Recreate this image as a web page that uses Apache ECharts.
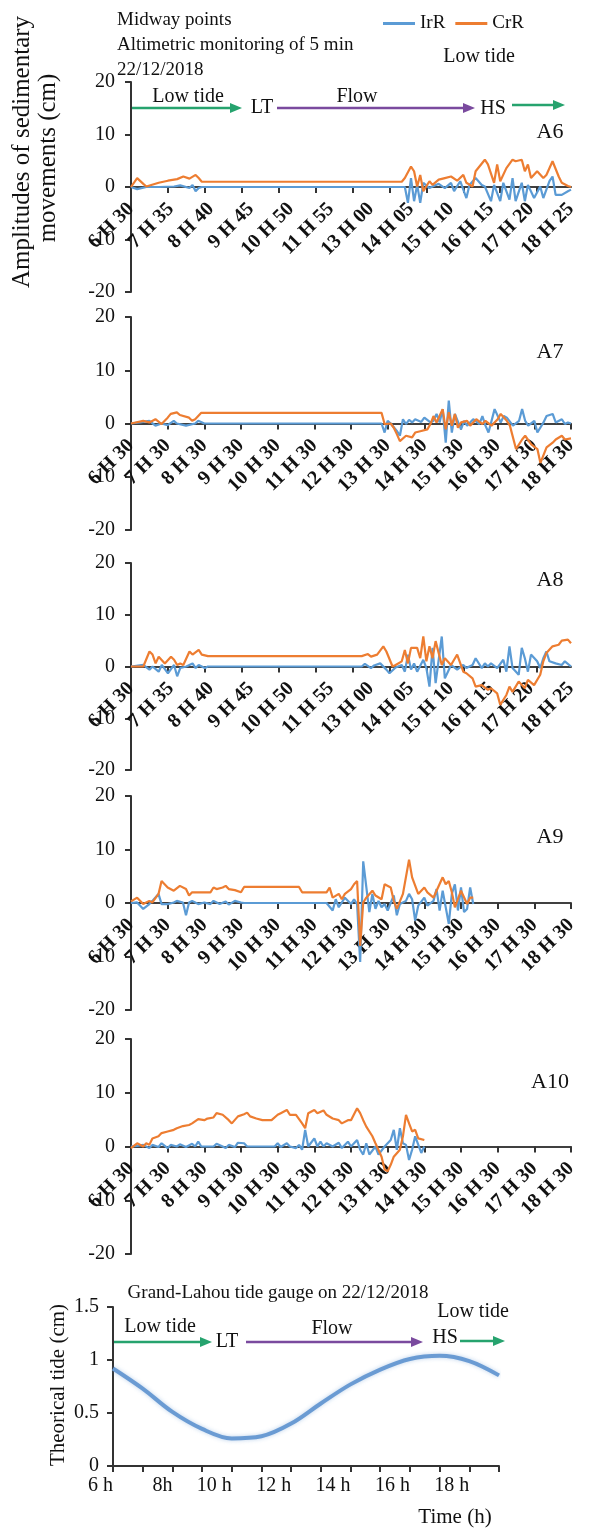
<!DOCTYPE html>
<html>
<head>
<meta charset="utf-8">
<script src="https://cdn.jsdelivr.net/npm/echarts@6/dist/echarts.min.js"></script>
<style>
  html, body { margin: 0; background: #fff; }
  #chart { width: 599px; height: 1530px; }
</style>
</head>
<body>
<div id="chart"></div>
<script>
// sample index = number of 5 min steps since 6 H 30
const a6IrR = [[0,0],[2,-0.4],[5,0],[9,0],[14,0.1],[16,0.3],[19,-0.2],[20,0.4],[21,-0.8],[22,-0.2],[23,0],[89,0],[90,-3.0],[91,1.7],[92,-2.7],[93,0.4],[94,-3.0],[95,0.8],[97,-0.2],[98,0.1],[100,0.6],[102,-0.2],[104,0.8],[105,-0.8],[107,1.1],[109,-2.1],[110,0.4],[112,1.7],[114,0.4],[115,0.1],[117,-2.7],[118,0.4],[120,-2.7],[121,0.8],[123,-2.4],[124,1.7],[125,-2.7],[127,0.8],[128,-2.7],[129,0.4],[131,-2.1],[133,0.1],[134,-2.1],[136,1.1],[137,2.0],[138,-1.5],[140,-1.5],[142,-0.8],[143,-0.5]]
const a6CrR = [[0,0],[2,1.7],[4,0.6],[5,0.1],[9,0.8],[12,1.2],[15,1.5],[17,2.0],[19,1.6],[21,2.3],[22,1.7],[23,1.0],[88,1.0],[89,1.7],[91,3.9],[92,3.0],[93,0.1],[94,2.3],[95,-0.8],[97,1.1],[98,0.4],[100,1.4],[102,1.7],[104,2.0],[106,1.2],[108,2.3],[109,0.8],[111,0.1],[112,3.0],[115,5.2],[116,4.3],[118,0.8],[119,4.3],[120,1.1],[122,3.6],[124,5.2],[125,4.9],[127,5.2],[128,3.0],[129,4.3],[130,1.7],[132,3.0],[134,1.7],[135,2.3],[137,4.9],[139,2.0],[140,0.8],[142,0.2],[143,0]]

const a7IrR = [[0,0],[3,0.2],[6,0.5],[8,-0.4],[10,0],[12,-0.3],[14,0.5],[15,0],[18,-0.4],[21,0],[22,0.5],[24,0],[82,0],[83,-1.7],[84,0.5],[85,0],[87,-1.4],[88,-2.3],[89,0.8],[90,-0.1],[91,0.7],[92,0.2],[93,0.8],[95,0.3],[96,1.1],[98,0.2],[99,0.5],[100,1.8],[101,0.2],[102,2.7],[103,-3.6],[104,4.3],[105,-1.7],[106,1.8],[108,-1.1],[109,0.5],[110,-0.4],[112,0.8],[114,-0.1],[115,1.4],[116,-0.4],[117,-1.7],[119,2.7],[121,0.2],[122,1.4],[123,1.1],[125,-0.4],[127,0.5],[128,2.7],[129,0.5],[130,-0.4],[132,0.5],[133,-1.7],[135,0.2],[136,1.4],[138,1.8],[139,0.2],[141,0.8],[142,-0.1],[143,0.2],[144,0]]
const a7CrR = [[0,0],[4,0.5],[6,0.2],[8,0.8],[10,-0.1],[12,1.1],[13,1.8],[15,2.1],[16,1.6],[19,1.1],[20,0.5],[21,0.8],[23,2.0],[82,2.0],[83,-0.1],[85,0],[86,-0.8],[87,-2.0],[88,-3.3],[90,-2.3],[92,-2.6],[93,-1.7],[95,-1.4],[97,-1.1],[98,-0.1],[99,1.4],[100,0.2],[102,2.7],[103,-1.1],[104,2.1],[105,-0.4],[106,1.8],[107,-0.8],[108,0.2],[110,0.5],[111,-0.4],[113,0.8],[115,-0.1],[116,0.5],[118,-0.4],[120,0.8],[121,1.8],[123,0.5],[124,-0.4],[126,-4.8],[128,-3.0],[129,-2.3],[131,-3.9],[133,-4.8],[134,-7.4],[136,-4.5],[138,-3.6],[139,-3.0],[141,-2.3],[142,-3.0],[144,-2.8]]

const a8IrR = [[0,0],[4,0.3],[6,-0.6],[7,0],[9,-1.0],[10,0.3],[12,-1.3],[14,0.3],[15,-1.9],[16,-0.3],[18,0],[20,0.6],[21,-0.3],[22,0.3],[24,-0.3],[25,0],[75,0],[76,0.5],[78,-0.3],[79,0.2],[81,0.6],[83,-0.6],[84,-1.3],[86,-0.2],[88,0.3],[89,-1.0],[90,2.3],[91,-0.6],[92,0.6],[93,-1.0],[95,1.3],[96,-0.3],[97,-3.9],[98,3.6],[99,-3.2],[101,5.8],[102,-2.3],[103,-1.0],[104,0.3],[106,-0.6],[108,0.3],[109,-0.3],[111,0.3],[112,1.6],[114,-0.3],[115,0.6],[116,0],[117,0.6],[119,-0.3],[121,1.3],[122,-1.0],[123,3.9],[124,-0.3],[126,-1.6],[127,3.6],[128,1.6],[129,-1.0],[130,2.3],[132,1.0],[133,-0.3],[134,1.6],[135,2.9],[136,1.0],[138,0.6],[140,0.3],[141,1.0],[143,0]]
const a8CrR = [[0,0],[4,0],[6,2.9],[7,2.3],[8,0.6],[9,1.9],[11,0.6],[13,1.9],[14,1.3],[15,0.3],[16,0.6],[17,0.3],[19,2.9],[20,2.3],[22,3.2],[23,2.3],[25,2.0],[75,2.0],[77,2.4],[78,1.9],[80,2.3],[82,3.9],[83,2.9],[85,0],[86,0.3],[88,1.0],[89,3.2],[90,0.6],[91,3.6],[93,3.6],[94,1.6],[95,5.8],[96,1.0],[97,3.9],[98,1.6],[99,4.9],[101,0.3],[102,1.6],[104,0.3],[105,1.3],[106,2.3],[108,-1.0],[109,-1.3],[111,-2.3],[112,-3.9],[114,-3.6],[116,-4.5],[117,-4.2],[119,-5.2],[120,-7.4],[122,-5.5],[123,-3.9],[124,-4.9],[126,-2.9],[128,-4.2],[129,-2.6],[131,-3.6],[133,-1.6],[134,1.0],[135,2.6],[137,3.9],[139,4.2],[140,5.0],[142,5.2],[143,4.5]]

const a9IrR = [[0,0],[2,0.1],[4,-1.1],[6,-0.2],[7,0.4],[9,1.7],[10,-0.2],[12,-0.2],[14,0.1],[15,0.4],[17,0.1],[18,-2.3],[19,0.1],[20,0.4],[22,-0.2],[24,0.1],[26,-0.2],[27,0.4],[29,-0.2],[31,0.3],[32,-0.3],[34,0.4],[36,0.1],[37,0],[64,0],[66,-1.4],[67,0.7],[68,-0.8],[70,1.0],[72,-0.2],[73,0.7],[74,-0.2],[75,-11],[76,7.8],[78,-1.7],[79,1.7],[80,-1.1],[81,0.4],[82,-0.8],[83,-0.2],[84,-1.4],[86,1.4],[87,-2.3],[88,-0.2],[90,0.4],[91,1.7],[92,0.7],[93,-3.3],[94,-0.5],[96,1.0],[97,-0.5],[99,0.4],[100,2.6],[101,-1.4],[102,2.3],[104,-3.9],[105,1.7],[106,3.5],[107,-1.4],[108,2.9],[109,-1.7],[110,-1.1],[111,2.9],[112,-0.2]]
const a9CrR = [[0,0.3],[2,1.0],[4,-0.2],[6,0.4],[7,0.1],[9,1.7],[10,4.1],[12,2.9],[14,2.3],[16,3.2],[18,2.6],[19,1.4],[20,2.0],[26,2.0],[27,2.9],[28,2.6],[30,2.9],[31,3.2],[32,2.6],[34,2.4],[36,2.0],[37,3.0],[55,3.0],[56,2.0],[64,2.0],[65,2.9],[66,1.0],[68,1.7],[69,0.7],[70,1.7],[72,2.6],[73,3.5],[74,4.1],[75,-8.0],[76,0.1],[77,1.0],[79,2.3],[80,1.4],[82,0.7],[83,3.5],[85,2.9],[86,0.4],[87,-1.1],[89,1.7],[91,8.1],[92,4.8],[94,1.7],[96,2.9],[97,2.0],[99,1.0],[100,2.3],[102,4.8],[103,3.5],[104,4.1],[105,2.0],[106,-0.8],[108,2.3],[110,-0.2],[111,1.0],[112,1.0]]

const a10IrR = [[0,0],[2,0.1],[4,0.3],[6,-0.3],[7,0.3],[9,-0.1],[10,0.6],[12,-0.3],[13,0.3],[15,0],[16,0.4],[18,-0.1],[20,0.5],[21,0],[22,0.9],[23,0],[27,0],[28,0.5],[30,0],[31,-0.3],[32,0.3],[34,-0.1],[35,0.7],[37,0.6],[38,0],[47,0],[48,0.6],[49,-0.1],[51,0.6],[52,0],[54,-0.3],[55,0.3],[56,-0.6],[57,3.1],[58,0],[60,1.5],[61,0],[62,0.9],[63,0],[64,0.6],[66,0],[68,0.7],[69,-0.3],[71,0.9],[72,0],[74,1.2],[75,-0.6],[76,-1.5],[77,0.6],[78,-1.5],[80,0],[81,-1.5],[83,0],[85,1.2],[86,3.1],[87,-0.6],[88,3.4],[89,0.6],[90,0.3],[91,-2.5],[92,-0.6],[93,1.9],[95,-1.2],[96,0]]
const a10CrR = [[0,-0.3],[2,0.6],[4,0],[5,0.6],[6,0.3],[7,1.5],[9,1.9],[10,2.5],[12,2.8],[14,3.1],[15,3.4],[17,3.8],[19,4.0],[20,4.3],[22,5.1],[24,4.9],[25,5.2],[27,5.4],[28,6.2],[30,5.9],[32,4.9],[33,4.3],[35,5.6],[37,6.0],[38,6.3],[39,5.6],[41,5.2],[43,4.9],[46,4.9],[48,5.9],[49,6.2],[51,6.8],[52,5.9],[54,5.9],[56,4.3],[57,3.4],[58,6.2],[60,6.8],[61,6.2],[63,6.7],[64,5.9],[66,5.2],[68,4.9],[69,4.3],[71,4.9],[72,4.9],[74,7.1],[75,6.2],[76,4.9],[77,3.7],[79,1.9],[80,0.6],[82,-1.9],[83,-4.3],[84,-4.6],[85,-3.4],[86,-1.9],[88,-0.6],[89,1.9],[90,5.9],[91,4.3],[92,2.8],[93,3.1],[94,1.5],[96,1.2]]

const tideHours = [6, 7, 8, 9, 10, 11, 12, 13, 14, 15, 16, 17, 18, 19]
const tideValues = [0.92, 0.73, 0.51, 0.35, 0.26, 0.28, 0.40, 0.59, 0.77, 0.91, 1.01, 1.04, 0.99, 0.855]
const tideTickLabels = ['6 h', '', '8h', '', '10 h', '', '12 h', '', '14 h', '', '16 h', '', '18 h', '']

const BLUE = '#5B9BD5'
const ORANGE = '#ED7D31'
const GREEN = '#26A36E'
const PURPLE = '#7A4A9E'
const INK = '#111'
const SERIF = '"Liberation Serif", "Times New Roman", serif'

// axis categories: one every 5 min from 6 H 30
const timeLabels = (count) => {
  const out = []
  for (let i = 0; i < count; i++) {
    const m = 6 * 60 + 30 + 5 * i
    out.push(Math.floor(m / 60) + ' H ' + String(m % 60).padStart(2, '0'))
  }
  return out
}
const cats144 = timeLabels(144)
const cats145 = timeLabels(145)

const panels = [
  { tag: 'A6', top: 82, height: 210, cats: cats144, labelInterval: 12, irr: a6IrR, crr: a6CrR, tagY: 132 },
  { tag: 'A7', top: 317, height: 213, cats: cats145, labelInterval: 11, irr: a7IrR, crr: a7CrR, tagY: 352 },
  { tag: 'A8', top: 563, height: 207, cats: cats144, labelInterval: 12, irr: a8IrR, crr: a8CrR, tagY: 580 },
  { tag: 'A9', top: 796, height: 214, cats: cats145, labelInterval: 11, irr: a9IrR, crr: a9CrR, tagY: 837 },
  { tag: 'A10', top: 1039, height: 215, cats: cats145, labelInterval: 11, irr: a10IrR, crr: a10CrR, tagY: 1082 },
]

const axisLine = { show: true, lineStyle: { color: '#333', width: 2 } }
const axisTick = { show: true, length: 6, lineStyle: { color: '#333', width: 2 } }
const labelFont = { fontFamily: SERIF, fontSize: 20, color: INK }

const grid = []
const xAxis = []
const yAxis = []
const series = []

panels.forEach((p, i) => {
  grid.push({ left: 131, width: 440, top: p.top, height: p.height, outerBoundsMode: 'none' })
  // the time axis sits on y = 0, i.e. half way up the symmetric -20..20 range
  xAxis.push({
    type: 'category',
    gridIndex: i,
    data: p.cats,
    boundaryGap: false,
    offset: -p.height / 2,
    axisLine: { onZero: false, lineStyle: { color: '#404040', width: 2 } },
    axisTick: { ...axisTick, interval: 11 },
    axisLabel: { ...labelFont, fontWeight: 'bold', interval: p.labelInterval, rotate: 45, margin: 19 },
    splitLine: { show: false },
  })
  yAxis.push({
    type: 'value',
    gridIndex: i,
    min: -20,
    max: 20,
    interval: 10,
    axisLine,
    axisTick,
    axisLabel: { ...labelFont, margin: 16 },
    splitLine: { show: false },
  })
  series.push({
    type: 'line', name: 'IrR', xAxisIndex: i, yAxisIndex: i, data: p.irr,
    symbol: 'none', lineStyle: { color: BLUE, width: 2.2 }, itemStyle: { color: BLUE },
  })
  series.push({
    type: 'line', name: 'CrR', xAxisIndex: i, yAxisIndex: i, data: p.crr,
    symbol: 'none', lineStyle: { color: ORANGE, width: 2.2 }, itemStyle: { color: ORANGE },
  })
})

// tide gauge panel
grid.push({ left: 113, width: 386, top: 1307, height: 159, outerBoundsMode: 'none' })
xAxis.push({
  type: 'value',
  gridIndex: 5,
  min: 6,
  max: 19,
  interval: 1,
  axisLine,
  axisTick,
  axisLabel: {
    ...labelFont, margin: 10, align: 'right',
    formatter: (v) => tideTickLabels[v - 6] || '',
  },
  splitLine: { show: false },
})
yAxis.push({
  type: 'value',
  gridIndex: 5,
  min: 0,
  max: 1.5,
  interval: 0.5,
  axisLine,
  axisTick,
  axisLabel: { ...labelFont, margin: 14 },
  splitLine: { show: false },
})
series.push({
  type: 'line',
  name: 'tide',
  xAxisIndex: 5,
  yAxisIndex: 5,
  data: tideHours.map((h, k) => [h, tideValues[k]]),
  smooth: 0.35,
  symbol: 'none',
  lineStyle: { color: '#6A9BD3', width: 4, shadowColor: 'rgba(106,155,211,0.45)', shadowBlur: 4 },
})

const text = (str, x, y, size, align = 'center', rotation = 0) => ({
  type: 'text',
  x, y, rotation,
  style: {
    text: str,
    font: `${size}px ${SERIF}`,
    fill: INK,
    textAlign: align, align,
    textVerticalAlign: 'middle', verticalAlign: 'middle',
  },
})

const arrow = (x1, x2, y, color) => [
  { type: 'line', shape: { x1, y1: y, x2: x2 - 8, y2: y }, style: { stroke: color, lineWidth: 2.5 } },
  { type: 'polygon', shape: { points: [[x2, y], [x2 - 12, y - 5], [x2 - 12, y + 5]] }, style: { fill: color } },
]

const graphic = [
  text('Midway points', 117, 20, 19, 'left'),
  text('Altimetric monitoring of 5 min', 117, 45, 19, 'left'),
  text('22/12/2018', 117, 70, 19, 'left'),
  text('Low tide', 479, 57, 20),
  text('Low tide', 188, 97, 20),
  text('LT', 262, 108, 20),
  text('Flow', 357, 97, 20),
  text('HS', 493, 109, 20),
  ...arrow(131, 242, 108, GREEN),
  ...arrow(277, 475, 108, PURPLE),
  ...arrow(512, 565, 105, GREEN),
  text('Amplitudes of sedimentary', 22, 152, 25, 'center', Math.PI / 2),
  text('movements (cm)', 48, 158, 25, 'center', Math.PI / 2),
  ...panels.map((p) => text(p.tag, 550, p.tagY, 22)),
  text('Grand-Lahou tide gauge on 22/12/2018', 278, 1293, 19),
  text('Low tide', 473, 1312, 20),
  text('Low tide', 160, 1327, 20),
  text('LT', 227, 1342, 20),
  text('Flow', 332, 1329, 20),
  text('HS', 445, 1338, 20),
  ...arrow(113, 212, 1342, GREEN),
  ...arrow(246, 423, 1342, PURPLE),
  ...arrow(460, 505, 1341, GREEN),
  text('Theorical tide (cm)', 58, 1385, 21, 'center', Math.PI / 2),
  text('Time (h)', 455, 1517, 21),
]

const chart = echarts.init(document.getElementById('chart'))
chart.setOption({
  animation: false,
  backgroundColor: '#fff',
  legend: {
    data: ['IrR', 'CrR'],
    left: 378,
    top: 9,
    icon: 'rect',
    itemWidth: 32,
    itemHeight: 3,
    itemGap: 10,
    textStyle: { fontFamily: SERIF, fontSize: 19, color: INK },
  },
  grid,
  xAxis,
  yAxis,
  series,
  graphic,
})
</script>
</body>
</html>
